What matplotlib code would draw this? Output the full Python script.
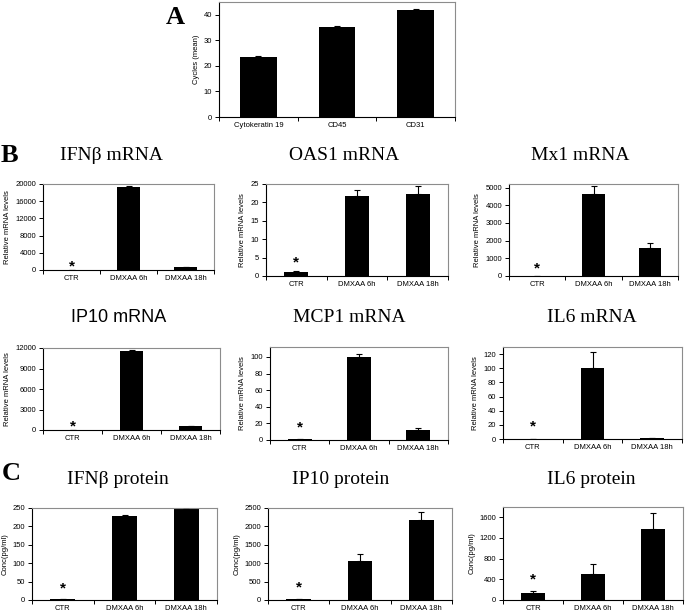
import matplotlib
matplotlib.use("Agg")
import matplotlib.pyplot as plt
import numpy as np

# ---- data ----
markers = ["Cytokeratin 19", "CD45", "CD31"]
cycles = [23.5, 35.2, 41.8]
cycles_err = [0.3, 0.3, 0.3]

groups = ["CTR", "DMXAA 6h", "DMXAA 18h"]

ifnb_mrna = [1, 19200, 650]
ifnb_mrna_err = [0, 250, 0]
oas1_mrna = [1.0, 21.7, 22.4]
oas1_mrna_err = [0.3, 1.7, 2.0]
mx1_mrna = [1, 4650, 1600]
mx1_mrna_err = [0, 450, 250]
ip10_mrna = [1, 11500, 550]
ip10_mrna_err = [0, 250, 0]
mcp1_mrna = [0.8, 99.5, 12.5]
mcp1_mrna_err = [0, 4, 2.5]
il6_mrna = [0.5, 100, 1.2]
il6_mrna_err = [0, 23, 0]

ifnb_prot = [3, 229, 246]
ifnb_prot_err = [0.5, 3, 2]
ip10_prot = [20, 1070, 2170]
ip10_prot_err = [10, 170, 210]
il6_prot = [140, 500, 1370]
il6_prot_err = [30, 190, 310]

W, H = 685, 614
SANS = "Liberation Sans"
SERIF = "Liberation Serif"

fig = plt.figure(figsize=(W / 100, H / 100), dpi=100)


def px_box(x0, y0, x1, y1):
    return [x0 / W, 1 - y1 / H, (x1 - x0) / W, (y1 - y0) / H]


def style_axes(ax, labels, ymax, yticks, ylabel, fs=5.5):
    n = len(labels)
    ax.set_xlim(-0.5, n - 0.5)
    ax.set_ylim(0, ymax)
    ax.set_yticks(yticks)
    ax.set_xticks(np.arange(n))
    ax.set_xticklabels(labels, fontsize=fs, family=SANS)
    ax.set_xticks(np.arange(n + 1) - 0.5, minor=True)
    ax.tick_params(axis="x", which="major", length=0, pad=3.6)
    ax.tick_params(axis="x", which="minor", length=3, width=0.7, direction="out")
    ax.tick_params(axis="y", length=3, width=0.7, direction="out", labelsize=fs, pad=2)
    for lab in ax.get_yticklabels():
        lab.set_family(SANS)
    ax.set_ylabel(ylabel, fontsize=fs, family=SANS, labelpad=3)
    for s in ["top", "right"]:
        ax.spines[s].set_color("#8c8c8c")
        ax.spines[s].set_linewidth(0.8)
    for s in ["left", "bottom"]:
        ax.spines[s].set_color("black")
        ax.spines[s].set_linewidth(0.8)


def draw_bars(ax, values, errors, width):
    x = np.arange(len(values))
    ax.bar(x, values, width=width, color="black", zorder=2)
    lower = np.zeros(len(errors))
    ax.errorbar(x, values, yerr=[lower, errors], fmt="none", ecolor="black",
                elinewidth=0.8, capsize=2.2, capthick=0.8, zorder=3)


def add_star(ax, offset_px):
    ax.annotate("*", xy=(0, 0), xytext=(0, offset_px * 0.72), textcoords="offset points",
                ha="center", va="center", fontsize=11, fontweight="bold",
                family=SANS, annotation_clip=False)


# ---- panel A ----
axA = fig.add_axes(px_box(219, 2, 455, 117))
draw_bars(axA, cycles, cycles_err, 0.47)
style_axes(axA, markers, 45, [0, 10, 20, 30, 40], "Cycles (mean)", fs=5.5)
fig.text(175 / W, 1 - 17 / H, "A", fontsize=19, fontweight="bold", family=SERIF,
         ha="center", va="center")

# ---- panels B and C ----
panels = [
    # box, values, errors, ymax, yticks, ylabel, title, title pos, title font, star px
    ((43, 184, 214, 270), ifnb_mrna, ifnb_mrna_err, 20000, range(0, 20001, 4000),
     "Relative mRNA levels", "IFNβ mRNA", (112, 155), SERIF, 4),
    ((266, 184, 448, 276), oas1_mrna, oas1_mrna_err, 25, range(0, 26, 5),
     "Relative mRNA levels", "OAS1 mRNA", (344, 155), SERIF, 14),
    ((509, 184, 678, 276), mx1_mrna, mx1_mrna_err, 5200, range(0, 5001, 1000),
     "Relative mRNA levels", "Mx1 mRNA", (580, 155), SERIF, 8),
    ((43, 348, 220, 430), ip10_mrna, ip10_mrna_err, 12000, range(0, 12001, 3000),
     "Relative mRNA levels", "IP10 mRNA", (119, 317), SANS, 4),
    ((270, 347, 448, 440), mcp1_mrna, mcp1_mrna_err, 112, range(0, 101, 20),
     "Relative mRNA levels", "MCP1 mRNA", (349, 317), SERIF, 13),
    ((503, 347, 682, 439), il6_mrna, il6_mrna_err, 130, range(0, 121, 20),
     "Relative mRNA levels", "IL6 mRNA", (592, 317), SERIF, 13),
    ((32, 508, 217, 600), ifnb_prot, ifnb_prot_err, 250, range(0, 251, 50),
     "Conc(pg/ml)", "IFNβ protein", (118, 479), SERIF, 12),
    ((268, 508, 452, 600), ip10_prot, ip10_prot_err, 2500, range(0, 2501, 500),
     "Conc(pg/ml)", "IP10 protein", (341, 479), SERIF, 13),
    ((503, 507, 683, 600), il6_prot, il6_prot_err, 1800, range(0, 1601, 400),
     "Conc(pg/ml)", "IL6 protein", (591, 480), SERIF, 21),
]

for box, vals, errs, ymax, yt, ylab, title, tpos, tfont, star in panels:
    ax = fig.add_axes(px_box(*box))
    draw_bars(ax, vals, errs, 0.4)
    style_axes(ax, groups, ymax, list(yt), ylab)
    add_star(ax, star)
    tsize = 13 if tfont == SANS else 14
    fig.text(tpos[0] / W, 1 - tpos[1] / H, title, fontsize=tsize, family=tfont,
             ha="center", va="center")

fig.text(9 / W, 1 - 156 / H, "B", fontsize=19, fontweight="bold", family=SERIF,
         ha="center", va="center")
fig.text(11 / W, 1 - 474 / H, "C", fontsize=19, fontweight="bold", family=SERIF,
         ha="center", va="center")

fig.savefig("out.png", dpi=100)
